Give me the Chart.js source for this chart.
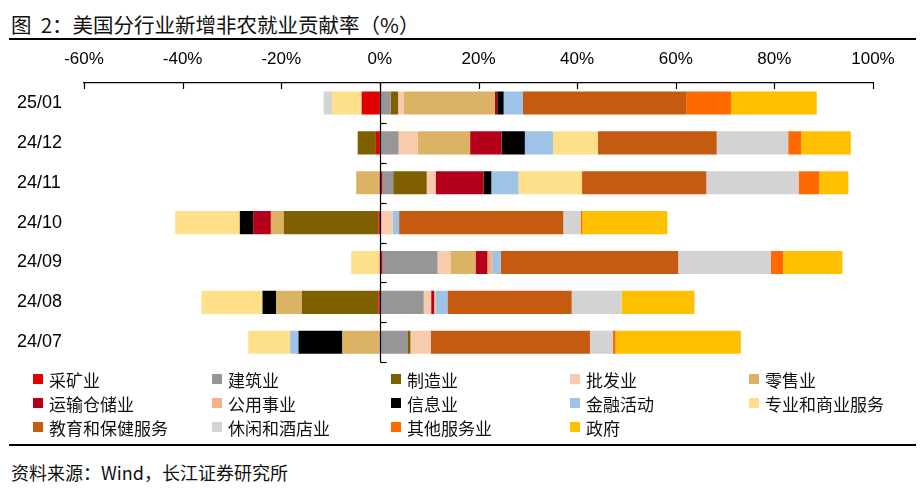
<!DOCTYPE html>
<html>
<head>
<meta charset="utf-8">
<script src="https://cdn.jsdelivr.net/npm/chart.js@4.4.1/dist/chart.umd.min.js"></script>
<style>
  html,body{margin:0;padding:0;background:#fff;}
  body{width:923px;height:495px;position:relative;overflow:hidden;font-family:"Noto Sans CJK SC","Liberation Sans",sans-serif;color:#111;}
  #title{position:absolute;left:11px;top:11px;font-size:20.5px;line-height:26px;white-space:pre;}
  #rule1{position:absolute;left:9px;top:38px;width:907px;height:2px;background:#000;}
  #wrap{position:absolute;left:0;top:40px;width:923px;height:333px;}
  #legend{position:absolute;left:33px;top:367px;display:grid;grid-template-columns:repeat(5,179px);grid-auto-rows:24px;}
  .li{display:flex;align-items:center;font-size:17px;white-space:nowrap;}
  .sw{width:10px;height:10px;margin-right:6px;flex:none;}
  #rule2{position:absolute;left:9px;top:444px;width:907px;height:2px;background:#000;}
  #source{position:absolute;left:11px;top:460px;font-size:18px;line-height:24px;}
</style>
</head>
<body>
<div id="title">图  2：美国分行业新增非农就业贡献率（%）</div>
<div id="rule1"></div>
<div id="wrap"><canvas id="c"></canvas></div>
<div id="legend"></div>
<div id="rule2"></div>
<div id="source">资料来源：Wind，长江证券研究所</div>
<script>
// months, top to bottom
const months=['25/01','24/12','24/11','24/10','24/09','24/08','24/07'];
const xTicks=[-60,-40,-20,0,20,40,60,80,100];

// contribution by sector (%), same order as months
const mining      =[-3.7,-0.8, 0.5, -0.3, 0.5,-0.3, 0];
const construction=[ 2.2, 3.8, 2.2,  0,  11.2, 8.9, 5.7];
const manufacture =[ 1.5,-3.7, 6.8,-19.2, 0, -15.5, 0.5];
const wholesale   =[ 1.1, 3.9, 1.8,  2.6, 2.6, 1.5, 4.1];
const retail      =[18.5,10.6,-4.8, -2.6, 5.1,-5.2,-7.6];
const transport   =[ 0.5, 6.4, 9.7, -3.6, 2.4, 0.6, 0];
const utilities   =[ 0,   0,   0,    0,   1.0, 0.3, 0];
const information =[ 1.3, 4.7, 1.6, -2.7, 0, -2.8,-8.9];
const financial   =[ 3.9, 5.7, 5.5,  1.3, 1.7, 2.4,-1.7];
const professional=[-6.0, 9.1,12.9,-13.1,-5.8,-12.4,-8.5];
const eduHealth   =[33.1,24.1,25.2, 33.3,36.0,25.2,32.3];
const leisure     =[-1.7,14.5,18.7,  3.5,18.8,10.1, 4.6];
const otherServ   =[ 9.1, 2.6, 4.2,  0.3, 2.5, 0,   0.6];
const government  =[17.4,10.1, 5.9, 17.3,12.0,14.8,25.4];

const seriesNames=['采矿业','建筑业','制造业','批发业','零售业','运输仓储业','公用事业','信息业','金融活动','专业和商业服务','教育和保健服务','休闲和酒店业','其他服务业','政府'];
const seriesData=[mining,construction,manufacture,wholesale,retail,transport,utilities,information,financial,professional,eduHealth,leisure,otherServ,government];
const seriesColors=['#e00000','#969696','#7f6000','#f8cbad','#dcb264','#b4001a','#f4b183','#000000','#9dc3e6','#ffe08a','#c55a11','#d3d3d3','#ff6a00','#ffc000'];

const datasets=seriesData.map((d,i)=>({
  label:seriesNames[i],data:d,backgroundColor:seriesColors[i],
  borderWidth:0,barPercentage:0.58,categoryPercentage:1.0
}));

// legend (html, row-major, 5 columns)
const lg=document.getElementById('legend');
seriesNames.forEach((n,i)=>{
  const it=document.createElement('div');it.className='li';
  it.innerHTML=`<span class="sw" style="background:${seriesColors[i]}"></span>${n}`;
  lg.appendChild(it);
});

// zero line with category ticks + downward ticks on top axis
const axisDeco={
  id:'axisDeco',
  afterDatasetsDraw(chart){
    const {ctx,chartArea:a,scales:{x,y}}=chart;
    ctx.save();
    ctx.strokeStyle='#000';ctx.lineWidth=1.2;
    const x0=Math.round(x.getPixelForValue(0))+0.5;
    ctx.beginPath();ctx.moveTo(x0,a.top);ctx.lineTo(x0,a.bottom);ctx.stroke();
    const step=(a.bottom-a.top)/months.length;
    for(let i=1;i<=months.length;i++){
      const yy=Math.round(a.top+i*step)+0.5;
      ctx.beginPath();ctx.moveTo(x0,yy);ctx.lineTo(x0+6,yy);ctx.stroke();
    }
    xTicks.forEach(v=>{
      const xx=Math.round(x.getPixelForValue(v))+0.5;
      ctx.beginPath();ctx.moveTo(xx,a.top);ctx.lineTo(xx,a.top+6);ctx.stroke();
    });
    ctx.restore();
  }
};

new Chart(document.getElementById('c'),{
  type:'bar',
  data:{labels:months,datasets},
  plugins:[axisDeco],
  options:{
    indexAxis:'y',responsive:true,maintainAspectRatio:false,animation:false,
    layout:{padding:{left:17,right:50,top:0,bottom:0}},
    plugins:{legend:{display:false},tooltip:{enabled:false}},
    scales:{
      x:{
        position:'top',stacked:true,min:-60,max:100,
        afterBuildTicks(s){s.ticks=xTicks.map(v=>({value:v}));},
        afterFit(s){s.height=43;},
        grid:{display:false,drawTicks:false},
        border:{display:true,color:'#000',width:1.2},
        ticks:{padding:13,color:'#000',font:{family:'Liberation Sans',size:17},callback:v=>v+'%'}
      },
      y:{
        stacked:true,
        afterFit(s){s.width=67;},
        grid:{display:false,drawTicks:false},
        border:{display:false},
        ticks:{crossAlign:'far',padding:0,color:'#000',font:{family:'Liberation Sans',size:18}}
      }
    }
  }
});
</script>
</body>
</html>
